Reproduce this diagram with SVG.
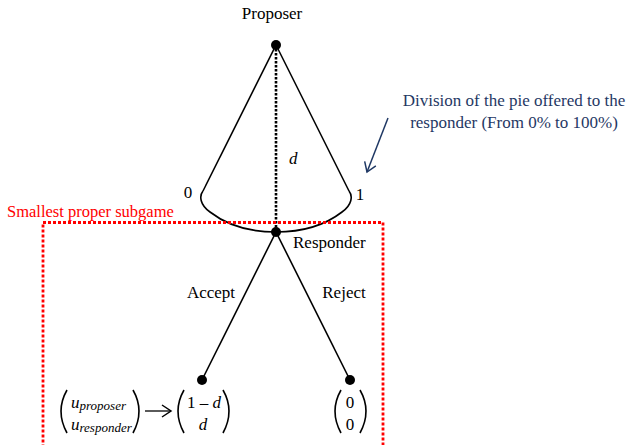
<svg xmlns="http://www.w3.org/2000/svg" width="629" height="445" viewBox="0 0 629 445">
<defs>
<style>
.t{font-family:"Liberation Serif","Times New Roman",serif;font-size:17px;fill:#000}
.i{font-style:italic}
.ln{stroke:#000;stroke-width:1.6;fill:none}
.dot{fill:#000}
.red{font-family:"Liberation Serif","Times New Roman",serif;font-size:16.5px;fill:#ff0000}
.blue{font-family:"Liberation Serif","Times New Roman",serif;font-size:17px;fill:#1f3864}
</style>
<marker id="ah" markerWidth="14" markerHeight="14" refX="10" refY="7" orient="auto" markerUnits="userSpaceOnUse">
<path d="M1,1 L10,7 L1,13" fill="none" stroke="#1f3864" stroke-width="1.5"/>
</marker>
<marker id="ahb" markerWidth="14" markerHeight="14" refX="10" refY="7" orient="auto" markerUnits="userSpaceOnUse">
<path d="M1,1 L10,7 L1,13" fill="none" stroke="#000" stroke-width="1.5"/>
</marker>
</defs>
<rect width="629" height="445" fill="#fff"/>

<g id="connectors">
<line class="ln" x1="276" y1="45" x2="203" y2="191"/>
<line class="ln" x1="276" y1="45" x2="349" y2="191"/>
<path class="ln" d="M203,191 C199,196 200,205 210,212 C228,226 252,232 276,232 C300,232 324,226 342,212 C352,205 353,196 349,191"/>
<line x1="276" y1="45" x2="276" y2="232" stroke="#000" stroke-width="2.6" stroke-dasharray="2.5,1.5"/>
<line class="ln" x1="276" y1="232" x2="202" y2="380"/>
<line class="ln" x1="276" y1="232" x2="350" y2="380"/>
<line x1="388" y1="118" x2="367" y2="172" stroke="#1f3864" stroke-width="1.5" marker-end="url(#ah)"/>
</g>

<rect id="subgame" x="43" y="222.5" width="340" height="240" fill="none" stroke="#ff0000" stroke-width="2.8" stroke-dasharray="3,2"/>

<g id="proposer">
<circle class="dot" cx="276" cy="45" r="5"/>
<text class="t" x="272" y="19" text-anchor="middle">Proposer</text>
</g>
<g id="division">
<text class="t i" x="289" y="164">d</text>
<text class="t" x="188" y="198" text-anchor="middle">0</text>
<text class="t" x="360" y="200" text-anchor="middle">1</text>
</g>
<g id="annotation">
<text class="blue" x="514" y="106" text-anchor="middle">Division of the pie offered to the</text>
<text class="blue" x="514" y="128" text-anchor="middle">responder (From 0% to 100%)</text>
</g>
<text class="red" x="7" y="217">Smallest proper subgame</text>

<g id="responder">
<circle class="dot" cx="276" cy="232" r="5"/>
<text class="t" x="293" y="248">Responder</text>
</g>
<text class="t" x="211" y="298" text-anchor="middle">Accept</text>
<text class="t" x="344" y="298" text-anchor="middle">Reject</text>

<g id="accept">
<circle class="dot" cx="202" cy="380" r="5"/>
<path class="ln" d="M67,390 Q55,411 67,433" stroke-width="1.2"/>
<text class="t i" x="71" y="408" font-size="18">u<tspan font-size="13" dy="2">proposer</tspan></text>
<text class="t i" x="71" y="430" font-size="18">u<tspan font-size="13" dy="2">responder</tspan></text>
<path class="ln" d="M133,390 Q145,411 133,433" stroke-width="1.2"/>
<line x1="145" y1="411" x2="171" y2="411" stroke="#000" stroke-width="1.3" marker-end="url(#ahb)"/>
<path class="ln" d="M184,390 Q172,411 184,433" stroke-width="1.2"/>
<text class="t" x="204" y="408" text-anchor="middle" font-size="18">1 – <tspan class="i">d</tspan></text>
<text class="t i" x="203" y="430" text-anchor="middle" font-size="18">d</text>
<path class="ln" d="M223,390 Q235,411 223,433" stroke-width="1.2"/>
</g>
<g id="reject">
<circle class="dot" cx="350" cy="380" r="5"/>
<path class="ln" d="M341,390 Q329,411 341,433" stroke-width="1.2"/>
<text class="t" x="350" y="408" text-anchor="middle" font-size="18">0</text>
<text class="t" x="350" y="430" text-anchor="middle" font-size="18">0</text>
<path class="ln" d="M360,390 Q372,411 360,433" stroke-width="1.2"/>
</g>
</svg>
